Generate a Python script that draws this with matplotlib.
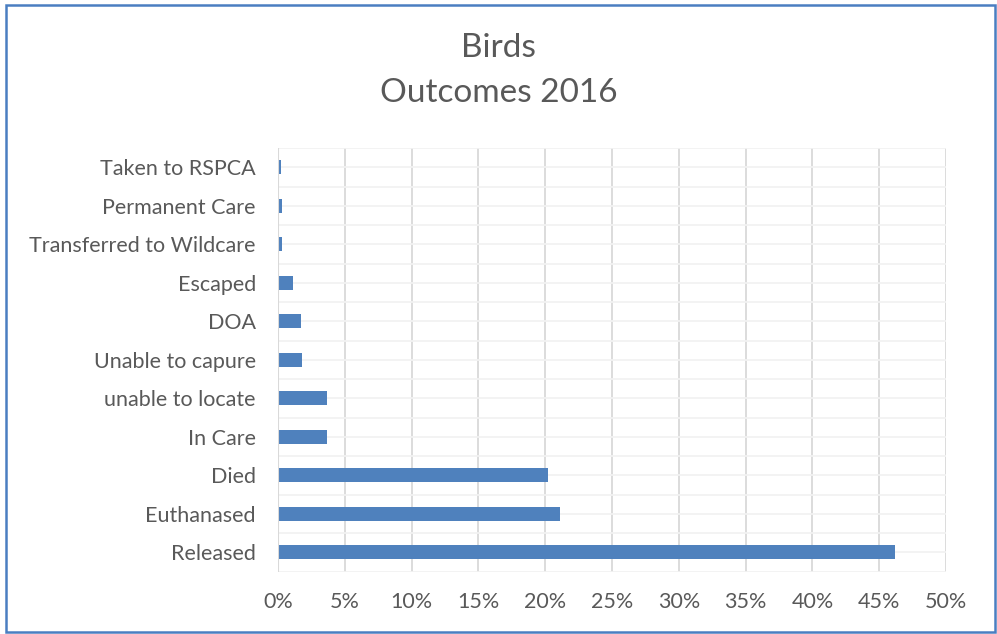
import matplotlib.pyplot as plt
from matplotlib.patches import Rectangle
from matplotlib.ticker import FuncFormatter

plt.rcParams['font.family'] = ['Lato', 'DejaVu Sans']

categories = ['Released', 'Euthanased', 'Died', 'In Care', 'unable to locate',
              'Unable to capure', 'DOA', 'Escaped', 'Transferred to Wildcare',
              'Permanent Care', 'Taken to RSPCA']
values = [46.2, 21.1, 20.2, 3.67, 3.67, 1.8, 1.7, 1.16, 0.27, 0.27, 0.22]
xticks = [0, 5, 10, 15, 20, 25, 30, 35, 40, 45, 50]

text_col = '#595959'
bar_col = '#4F81BD'

fig = plt.figure(figsize=(9.97, 6.34), dpi=100)
ax = fig.add_axes([278/997, 1-571.5/634, (946-278)/997, (571.5-148)/634])

ypos = list(range(len(categories)))
ax.barh(ypos, values, height=0.37, color=bar_col, zorder=3)

ax.set_xlim(0, 50)
ax.set_ylim(-0.5, len(categories) - 0.5)
ax.set_xticks(xticks)
ax.xaxis.set_major_formatter(FuncFormatter(lambda v, p: '%d%%' % v))
ax.set_yticks(ypos)
ax.set_yticklabels(categories)
ax.set_yticks([i + 0.5 for i in range(-1, len(categories))], minor=True)

ax.grid(axis='x', color='#D9D9D9', lw=1.3, zorder=0)
ax.grid(axis='y', which='major', color='#F2F2F2', lw=1.3, zorder=0)
ax.grid(axis='y', which='minor', color='#F2F2F2', lw=1.3, zorder=0)
ax.tick_params(axis='both', which='both', length=0, colors=text_col, labelsize=15.5)
ax.tick_params(axis='x', pad=15)
ax.tick_params(axis='y', pad=16)
for s in ax.spines.values():
    s.set_visible(False)
ax.axvline(0, color='#D9D9D9', lw=1.5, zorder=4)

fig.text(0.5, 1-48/634, 'Birds', ha='center', va='center', fontsize=24, color=text_col)
fig.text(0.5, 1-93/634, 'Outcomes 2016', ha='center', va='center', fontsize=24, color=text_col)

fig.patches.append(Rectangle((6/997, 1-632/634), 989/997, 627/634, transform=fig.transFigure,
                             fill=False, edgecolor='#4A7EC1', lw=1.8))

plt.savefig('out.png', dpi=100)
